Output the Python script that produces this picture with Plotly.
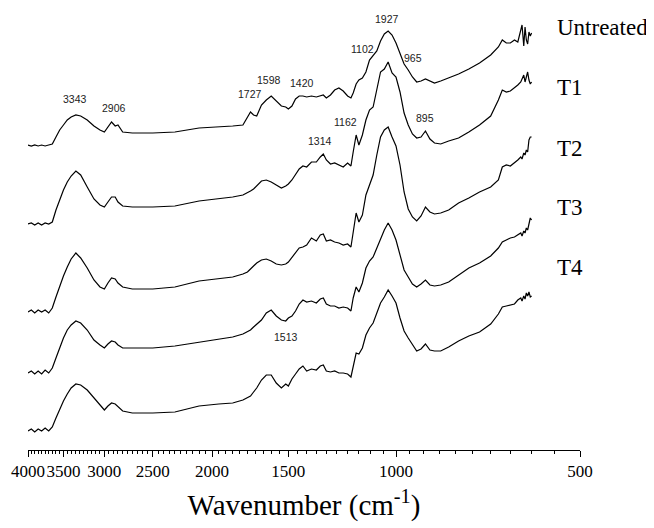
import plotly.graph_objects as go
import math

# Wavenumber grid (cm-1) at which the spectra were read
wavenumber = [4000, 3950, 3900, 3850, 3800, 3750, 3700, 3650, 3600, 3550,
              3500, 3450, 3400, 3340, 3280, 3200, 3120, 3050, 3000, 2960,
              2920, 2880, 2850, 2800, 2700, 2500, 2300, 2100, 1950, 1850,
              1780, 1750, 1730, 1710, 1690, 1660, 1630, 1600, 1570, 1540,
              1515, 1500, 1480, 1460, 1440, 1420, 1400, 1375, 1350, 1330,
              1315, 1300, 1280, 1260, 1240, 1220, 1200, 1185, 1175, 1162,
              1150, 1135, 1120, 1105, 1090, 1075, 1060, 1045, 1030, 1015,
              1000, 985, 970, 955, 940, 925, 910, 895, 880, 865,
              845, 820, 790, 760, 730, 700, 680, 670, 660, 650,
              640, 632, 625, 622, 618, 615, 612, 609, 606, 603, 600]

# Stacked (offset) transmittance traces, arbitrary units
untreated = [305, 304, 305, 304, 305, 304, 305, 306, 313, 320,
             325, 330, 333, 335, 334, 330, 324, 320, 318, 323,
             328, 324, 325, 318, 317, 317, 318, 322, 323, 324,
             325, 332, 338, 335, 334, 345, 350, 354, 349, 344,
             343, 341, 344, 351, 354, 354, 353, 354, 353, 354,
             355, 352, 355, 360, 362, 359, 354, 352, 357, 366,
             370, 372, 378, 390, 394, 399, 409, 416, 419, 415,
             407, 397, 386, 380, 373, 368, 369, 371, 369, 367,
             369, 372, 376, 381, 387, 395, 403, 410, 407, 407,
             410, 408, 421, 425, 404, 423, 410, 406, 418, 414, 417]

t1 = [226, 227, 225, 227, 225, 227, 226, 228, 240, 250,
      260, 268, 274, 279, 275, 263, 251, 245, 243, 248,
      253, 253, 248, 244, 243, 243, 244, 249, 251, 253,
      255, 257, 259, 261, 264, 269, 270, 268, 265, 262,
      264, 266, 270, 276, 281, 284, 283, 288, 288, 293,
      296, 290, 286, 287, 285, 283, 287, 284, 298, 315,
      305, 315, 330, 340, 343, 360, 378, 381, 388, 377,
      373, 358, 337, 325, 316, 312, 313, 319, 311, 307,
      306, 309, 312, 318, 325, 334, 350, 360, 358, 359,
      362, 365, 368, 372, 375, 368, 374, 378, 370, 366, 368]

t2 = [138, 140, 137, 140, 138, 140, 137, 142, 153, 164,
      174, 183, 191, 197, 192, 182, 170, 163, 161, 167,
      172, 171, 167, 163, 161, 161, 163, 169, 171, 173,
      176, 178, 181, 184, 187, 190, 191, 189, 186, 185,
      186, 188, 193, 198, 202, 203, 205, 212, 209, 215,
      216, 209, 210, 208, 207, 205, 206, 203, 220, 237,
      228, 235, 255, 265, 275, 295, 313, 320, 323, 313,
      304, 285, 258, 241, 233, 229, 234, 243, 238, 236,
      237, 240, 247, 252, 258, 263, 270, 283, 285, 284,
      287, 290, 293, 291, 297, 295, 300, 298, 310, 313, 313]

t3 = [77, 79, 76, 79, 76, 80, 77, 82, 92, 103,
      112, 120, 125, 129, 127, 120, 110, 105, 102, 106,
      109, 108, 105, 102, 102, 102, 104, 108, 111, 113,
      116, 118, 120, 123, 126, 130, 137, 140, 134, 130,
      129, 132, 134, 139, 146, 150, 148, 149, 147, 151,
      152, 146, 144, 144, 142, 143, 142, 139, 152, 163,
      158, 167, 182, 189, 193, 202, 210, 220, 227, 220,
      210, 195, 180, 173, 166, 163, 166, 170, 165, 164,
      165, 168, 175, 182, 187, 194, 202, 208, 210, 212,
      213, 215, 217, 214, 219, 217, 222, 220, 226, 232, 230]

t4 = [19, 21, 18, 21, 19, 22, 19, 23, 32, 41,
      49, 56, 62, 66, 65, 60, 52, 45, 40, 44,
      47, 46, 43, 39, 37, 37, 38, 44, 46, 47,
      50, 52, 54, 58, 62, 70, 75, 75, 67, 62,
      66, 64, 71, 76, 81, 84, 79, 81, 80, 84,
      85, 79, 78, 79, 77, 77, 76, 73, 85, 97,
      96, 102, 115, 122, 127, 137, 147, 153, 160, 154,
      147, 132, 119, 112, 105, 99, 101, 106, 100, 99,
      99, 103, 109, 114, 118, 126, 136, 143, 144, 145,
      146, 150, 152, 149, 154, 151, 157, 154, 158, 153, 154]

series = [("Untreated", untreated), ("T1", t1), ("T2", t2), ("T3", t3), ("T4", t4)]

tick_values = [4000, 3500, 3000, 2500, 2000, 1500, 1000, 500]
tick_labels = ["4000", "3500", "3000", "2500", "2000", "1500", "1000", "500"]

# Peak labels: text and position (paper coordinates)
peak_labels = ["3343", "2906", "1727", "1598", "1420", "1314", "1162",
               "1927", "1102", "965", "895", "1513"]
peak_px = [0.0851, 0.1558, 0.4022, 0.4366, 0.4964, 0.5290, 0.5743,
           0.6504, 0.6051, 0.6975, 0.7192, 0.4674]
peak_py = [0.7977, 0.7773, 0.8080, 0.8409, 0.8341, 0.7023, 0.7455,
           0.9795, 0.9114, 0.8909, 0.7545, 0.2568]

# Series name label positions (paper y)
name_py = [0.960, 0.823, 0.686, 0.552, 0.414]

fig = go.Figure()
for name, vals in series:
    fig.add_trace(go.Scatter(x=wavenumber, y=vals, mode="lines", name=name,
                             line=dict(color="black", width=1.2),
                             showlegend=False, hoverinfo="skip"))

annotations = []
for txt, px, py in zip(peak_labels, peak_px, peak_py):
    annotations.append(dict(text=txt, x=px, y=py, xref="paper", yref="paper",
                            showarrow=False, xanchor="center", yanchor="middle",
                            font=dict(family="Liberation Sans, Arial", size=10.5, color="#222")))
for (name, _), py in zip(series, name_py):
    annotations.append(dict(text=name, x=0.9547, y=py, xref="paper", yref="paper",
                            showarrow=False, xanchor="left", yanchor="middle",
                            font=dict(family="Liberation Serif, Times New Roman", size=23, color="black")))

minor_vals = [v for v in range(550, 4000, 50) if v % 500 != 0]

fig.update_layout(
    width=654, height=528, autosize=False,
    margin=dict(l=20, r=82, t=2, b=86, autoexpand=False),
    paper_bgcolor="white", plot_bgcolor="white",
    annotations=annotations,
    xaxis=dict(
        type="log", automargin=False, tickangle=0,
        range=[math.log10(4000), math.log10(500)],
        tickmode="array", tickvals=tick_values, ticktext=tick_labels,
        ticks="outside", ticklen=6, tickwidth=1, tickcolor="black",
        minor=dict(tickmode="array", tickvals=minor_vals, ticks="outside",
                   ticklen=3, tickwidth=1, tickcolor="black", showgrid=False),
        showline=True, linecolor="black", linewidth=1,
        showgrid=False, zeroline=False,
        tickfont=dict(family="Liberation Serif, Times New Roman", size=17, color="black"),
        title=dict(text="Wavenumber (cm<sup>-1</sup>)", standoff=14,
                   font=dict(family="Liberation Serif, Times New Roman", size=29, color="black")),
    ),
    yaxis=dict(visible=False, range=[0, 440], automargin=False),
)

fig.write_html("out.html")
